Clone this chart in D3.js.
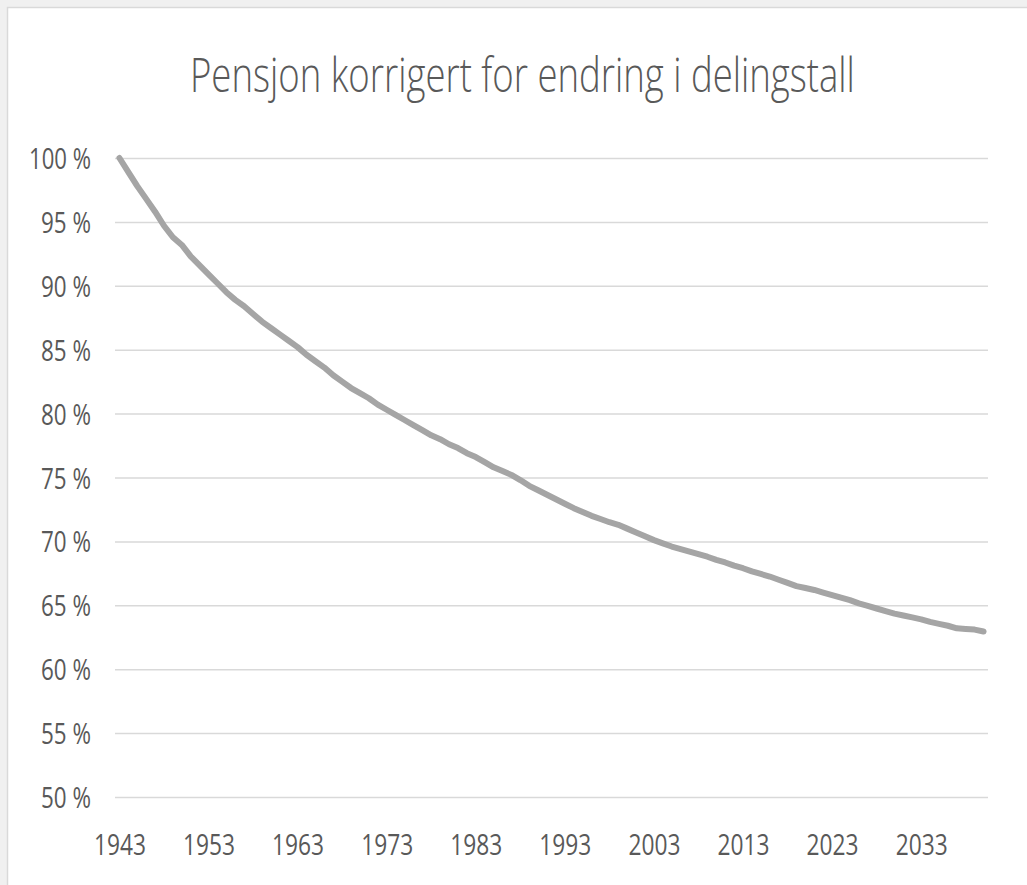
<!DOCTYPE html>
<html>
<head>
<meta charset="utf-8">
<script src="https://cdn.jsdelivr.net/npm/d3@7"></script>
<style>
  body { margin: 0; background: #f0f0f0; }
  text { font-family: "Open Sans", "Noto Sans", sans-serif; fill: #595959; }
</style>
</head>
<body>
<div id="my_dataviz"></div>
<script>
// years on the category axis
const years = d3.range(1943, 2041);

// pension level relative to 1943, in percent
const pension = [
  100.0, 98.9, 97.8, 96.8, 95.8, 94.7, 93.8, 93.2, 92.3, 91.6,
  90.9, 90.2, 89.5, 88.9, 88.4, 87.8, 87.2, 86.7, 86.2, 85.7,
  85.2, 84.6, 84.1, 83.6, 83.0, 82.5, 82.0, 81.6, 81.2, 80.7,
  80.3, 79.9, 79.5, 79.1, 78.7, 78.3, 78.0, 77.6, 77.3, 76.9,
  76.6, 76.2, 75.8, 75.5, 75.2, 74.8, 74.35, 74.0, 73.65, 73.3,
  72.95, 72.6, 72.3, 72.0, 71.75, 71.5, 71.3, 71.0, 70.7, 70.4,
  70.1, 69.85, 69.6, 69.4, 69.2, 69.0, 68.8, 68.55, 68.35, 68.1,
  67.9, 67.65, 67.45, 67.25, 67.0, 66.75, 66.5, 66.35, 66.2, 66.0,
  65.8, 65.6, 65.4, 65.15, 64.95, 64.75, 64.55, 64.35, 64.2, 64.05,
  63.9, 63.7, 63.55, 63.4, 63.2, 63.15, 63.1, 62.95
];

const yTicks = [50, 55, 60, 65, 70, 75, 80, 85, 90, 95, 100];
const xTicks = [1943, 1953, 1963, 1973, 1983, 1993, 2003, 2013, 2023, 2033];
const title = "Pensjon korrigert for endring i delingstall";

const width = 1027, height = 885;
const plotLeft = 115, plotRight = 988, plotTop = 158, plotBottom = 797;

const svg = d3.select("#my_dataviz")
  .append("svg")
  .attr("width", width)
  .attr("height", height)
  .style("display", "block");

// chart frame
svg.append("rect")
  .attr("x", 7.5).attr("y", 7.5)
  .attr("width", 1040).attr("height", 900)
  .attr("fill", "#ffffff")
  .attr("stroke", "#d9d9d9")
  .attr("stroke-width", 1.5);

// title: squeezed horizontally to the width it has in the picture (x 190..855)
const titleText = svg.append("text")
  .attr("font-size", 47)
  .attr("font-weight", 300)
  .text(title);
const titleLen = titleText.node().getComputedTextLength();
titleText.attr("transform", "translate(190,92) scale(" + (665 / titleLen) + ",1)");

const x = d3.scalePoint()
  .domain(years)
  .range([plotLeft, plotRight])
  .padding(0.5);

const y = d3.scaleLinear()
  .domain([50, 100])
  .range([plotBottom, plotTop]);

// gridlines + y labels
const yAxis = svg.append("g")
  .attr("transform", "translate(" + plotLeft + ",0)")
  .call(d3.axisLeft(y).tickValues(yTicks).tickSize(-(plotRight - plotLeft)).tickPadding(0).tickFormat(d => d + " %"));
yAxis.select(".domain").remove();
yAxis.selectAll(".tick line").attr("stroke", "#d9d9d9").attr("stroke-width", 1.5);
yAxis.selectAll(".tick text")
  .attr("x", 91 - plotLeft)
  .attr("dy", "0.35em")
  .attr("font-size", 30)
  .attr("textLength", d => d === 100 ? 62 : 50)
  .attr("lengthAdjust", "spacingAndGlyphs")
  .style("fill", "#595959");

// x labels
const xAxis = svg.append("g")
  .attr("transform", "translate(0," + plotBottom + ")")
  .call(d3.axisBottom(x).tickValues(xTicks).tickSize(0).tickPadding(0));
xAxis.select(".domain").remove();
xAxis.selectAll(".tick text")
  .attr("y", 58)
  .attr("dy", 0)
  .attr("font-size", 30)
  .attr("textLength", 52)
  .attr("lengthAdjust", "spacingAndGlyphs")
  .style("fill", "#595959");
svg.selectAll("g").attr("font-family", null).attr("font-size", null);

// the series line
const line = d3.line()
  .x((d, i) => x(years[i]))
  .y(d => y(d));

svg.append("path")
  .datum(pension)
  .attr("fill", "none")
  .attr("stroke", "#a5a5a5")
  .attr("stroke-width", 6)
  .attr("stroke-linejoin", "round")
  .attr("stroke-linecap", "round")
  .attr("d", line);
</script>
</body>
</html>
